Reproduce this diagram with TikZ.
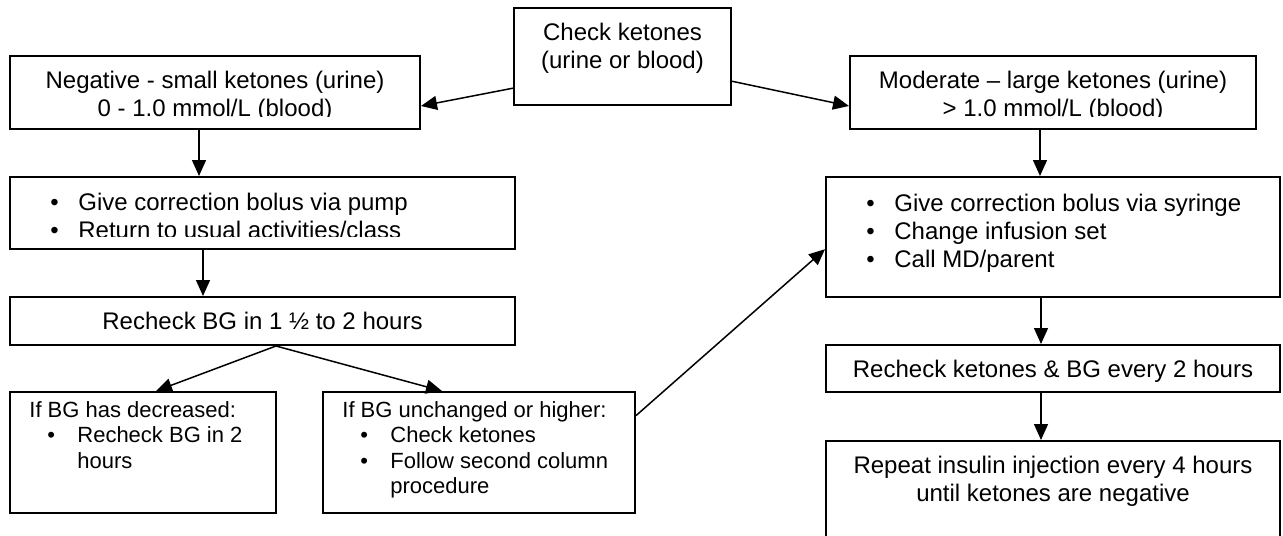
\documentclass[tikz,border=0pt]{standalone}
\usepackage{fontspec}
\setmainfont{Liberation Sans}
\usetikzlibrary{arrows.meta, calc}
\newcommand{\bul}[1][14pt]{\makebox[#1][l]{•}}
\newcommand{\topstrut}{\rule{0pt}{9pt}}

\begin{document}
\begin{tikzpicture}[x=0.5pt, y=-0.5pt,
    box/.style={draw, line width=1pt, inner sep=0pt},
    txt/.style={inner sep=0pt, font=\fontsize{12}{14}\selectfont},
    smalltxt/.style={inner sep=0pt, align=left, font=\fontsize{11}{12.7}\selectfont},
    arr/.style={-{Triangle[length=8pt, width=7pt]}, line width=0.75pt}]
  % page (px units, y down)
  \path[use as bounding box, fill=white] (0,0) rectangle (1283,535);

  % --- boxes
  \node[box, minimum width=108.5pt, minimum height=48.5pt] (chk) at (622.5,56.5) {};
  \node[box, minimum width=205pt, minimum height=36.5pt] (neg) at (215,92.5) {};
  \node[box, minimum width=203pt, minimum height=36.5pt] (mod) at (1053,92.5) {};
  \node[box, minimum width=252.5pt, minimum height=36pt] (pump) at (262.5,213) {};
  \node[box, minimum width=252.5pt, minimum height=24pt] (rbg) at (262.5,321) {};
  \node[box, minimum width=133pt, minimum height=60.5pt] (dec) at (143,452.5) {};
  \node[box, minimum width=156pt, minimum height=60.5pt] (unch) at (479,452.5) {};
  \node[box, minimum width=227pt, minimum height=60pt] (syr) at (1053,237) {};
  \node[box, minimum width=227pt, minimum height=23.5pt] (rk) at (1053,368.5) {};
  \node[box, minimum width=227pt, minimum height=79.5pt] (rep) at (1053,520.5) {};

  % --- texts (first baseline 33px below the top edge)
  \node[txt, anchor=north, align=center] (chktxt) at ($(chk.north)+(0,15)$)
    {\topstrut Check ketones\\(urine or blood)};
  \begin{scope}
    \clip (neg.north west) rectangle ($(neg.south east)+(0,-14)$);
    \node[txt, anchor=north, align=center] (negtxt) at ($(neg.north)+(0,15)$)
      {\topstrut Negative - small ketones (urine)\\0 - 1.0 mmol/L (blood)};
  \end{scope}
  \begin{scope}
    \clip (mod.north west) rectangle ($(mod.south east)+(0,-14)$);
    \node[txt, anchor=north, align=center] (modtxt) at ($(mod.north)+(0,15)$)
      {\topstrut Moderate – large ketones (urine)\\> 1.0 mmol/L (blood)};
  \end{scope}
  \begin{scope}
    \clip (pump.north west) rectangle ($(pump.south east)+(0,-14)$);
    \node[txt, anchor=north west, align=left] (pumptxt) at ($(pump.north west)+(41,16)$)
      {\topstrut\bul Give correction bolus via pump\\\bul Return to usual activities/class};
  \end{scope}
  \node[txt, anchor=north] (rbgtxt) at ($(rbg.north)+(0,15)$)
    {\topstrut Recheck BG in 1 ½ to 2 hours};
  \node[smalltxt, anchor=north west] (dectxt) at ($(dec.north west)+(20,8)$)
    {\topstrut If BG has decreased:\\\hspace*{9pt}\bul[15pt]Recheck BG in 2\\\hspace*{24pt}hours};
  \node[smalltxt, anchor=north west] (unchtxt) at ($(unch.north west)+(20,8)$)
    {\topstrut If BG unchanged or higher:\\\hspace*{9pt}\bul[15pt]Check ketones\\
     \hspace*{9pt}\bul[15pt]Follow second column\\\hspace*{24pt}procedure};
  \node[txt, anchor=north west, align=left] (syrtxt) at ($(syr.north west)+(41,17)$)
    {\topstrut\bul Give correction bolus via syringe\\\bul Change infusion set\\\bul Call MD/parent};
  \node[txt, anchor=north] (rktxt) at ($(rk.north)+(0,15)$)
    {\topstrut Recheck ketones \& BG every 2 hours};
  \node[txt, anchor=north, align=center] (reptxt) at ($(rep.north)+(0,15)$)
    {\topstrut Repeat insulin injection every 4 hours\\until ketones are negative};

  % --- arrows
  \coordinate (split) at (rbg.south -| 276,0);
  \draw[arr] ($(chk.north west)!0.82!(chk.south west)$) -- ($(neg.north east)!0.68!(neg.south east)$);
  \draw[arr] ($(chk.north east)!0.75!(chk.south east)$) -- ($(mod.north west)!0.68!(mod.south west)$);
  \draw[arr] (neg.south -| 199,0) -- (pump.north -| 199,0);
  \draw[arr] (pump.south -| 203,0) -- (rbg.north -| 203,0);
  \draw[arr] (split) -- (dec.north -| 156,0);
  \draw[arr] (split) -- (unch.north -| 442,0);
  \draw[arr] ($(unch.north east)!0.2!(unch.south east)$) -- ($(syr.north west)!0.6!(syr.south west)$);
  \draw[arr] (mod.south -| 1040,0) -- (syr.north -| 1040,0);
  \draw[arr] (syr.south -| 1041,0) -- (rk.north -| 1041,0);
  \draw[arr] (rk.south -| 1041,0) -- (rep.north -| 1041,0);
\end{tikzpicture}
\end{document}
